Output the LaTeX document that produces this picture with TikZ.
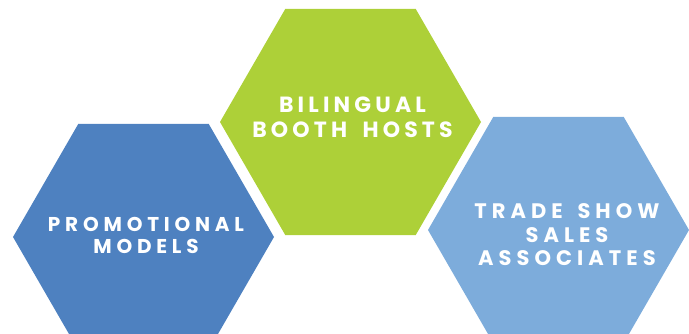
\documentclass[tikz,border=0pt]{standalone}
\usepackage{fontspec}
\usetikzlibrary{shapes.geometric}
\newfontfamily\popA{Poppins}[LetterSpace=24]
\newfontfamily\popB{Poppins}[LetterSpace=19]
\newfontfamily\popC{Poppins}[LetterSpace=24]
\newcommand{\wsp}{\hspace{0.7em}}
\definecolor{hexdark}{HTML}{4E81C0}
\definecolor{hexgreen}{HTML}{ADD038}
\definecolor{hexlight}{HTML}{7DACDB}
\begin{document}
\begin{tikzpicture}[x=1pt,y=-1pt,
  hexa/.style={regular polygon, regular polygon sides=6, minimum size=261pt, inner sep=0pt, draw=none},
  lbl/.style={text=white, align=center, inner sep=0pt}]
\useasboundingbox (0,0) rectangle (689,334);
\clip (0,0) rectangle (689,334);
\node[hexa, fill=hexdark] (left) at (143.5,237) {};
\node[hexa, fill=hexgreen] (mid) at (350.5,122) {};
\node[hexa, fill=hexlight] (right) at (558.5,230) {};
\node[lbl, font={\popA\bfseries\fontsize{20pt}{22pt}\selectfont}] (ltext) at (146,235.5) {PROMOTIONAL\\MODELS};
\node[lbl, font={\popB\bfseries\fontsize{22pt}{25pt}\selectfont}] (mtext) at (352.5,117) {BILINGUAL\\BOOTH\wsp HOSTS};
\node[lbl, font={\popC\bfseries\fontsize{21pt}{23.5pt}\selectfont}] (rtext) at (567,235) {TRADE\wsp SHOW\\SALES\\ASSOCIATES};
\end{tikzpicture}
\end{document}
